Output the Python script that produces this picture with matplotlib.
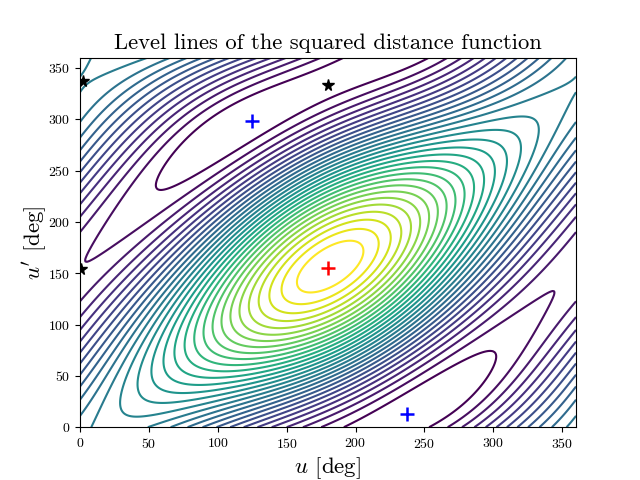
import numpy as np
import matplotlib
matplotlib.use("Agg")
import matplotlib.pyplot as plt

plt.rcParams['font.family'] = ['cmr10', 'DejaVu Sans']
plt.rcParams['mathtext.fontset'] = 'cm'
plt.rcParams['axes.formatter.use_mathtext'] = True

# level numbers are counted outwards from the lowest drawn line
level_numbers = list(range(1, 31))

# where level lines cross the bottom edge (u' = 0)
bottom_u = [9, 51, 66, 77, 88, 99, 110, 121, 132, 143, 154, 165, 176, 189,
            250, 263, 274, 284, 294, 303, 312, 321, 330, 339, 348, 356]
bottom_level = [13, 13, 12, 11, 10, 9, 8, 7, 6, 5, 4, 3, 2, 1,
                1, 2, 3, 4, 5, 6, 7, 8, 9, 10, 11, 12]

# where level lines cross the left edge (u = 0)
left_up = [10, 25, 42, 52, 62, 73, 83, 94, 106, 122, 189, 203, 215, 226, 238,
           251, 262, 274, 287, 302, 328, 344]
left_level = [12, 11, 10, 9, 8, 7, 6, 5, 4, 3, 3, 4, 5, 6, 7,
              8, 9, 10, 11, 12, 13, 13]

# crossings on the vertical line u = 180 and the horizontal line u' = 155
column_up = [319, 310, 303, 252, 204, 195.5]
column_level = [1, 2, 3, 15, 27, 28]
row_u = [218, 272, 340]
row_level = [28, 15, 3]

# other points read on the closed lines
line_u = [135, 227, 127, 235, 241.7,
          54, 309.6, 63.6, 300, 70.6, 291.5, 78, 284,
          79.8, 125.6,
          65, 114, 36, 80, 298.7, 250,
          17, 332.6, 298.7, 344.7, 327.7]
line_up = [130.6, 185.7, 124, 193.8, 202,
           47.6, 263.7, 60.5, 250.7, 70, 245.8, 78.3, 238,
           273.4, 280,
           214.6, 260.5, 224.7, 288, 101.5, 68.6,
           345, 322, 299.5, 289.7, 247.6]
line_level = [28, 28, 27, 27, 26,
              16, 16, 17, 17, 18, 18, 19, 19,
              1, 1,
              2, 2, 2, 2, 2, 2,
              13, 13, 13, 13, 13]

# tips of the long lines and the inner ellipses, these places count for more
tip_u = [58, 304.8, 30, 43.6, 332, 323, 43.5, 319, 17, 8.5, 323, 0, 0, 358,
         156, 206.8, 196, 165.7, 144.7, 217.7, 205.6, 157.2, 180, 180, 201, 210]
tip_up = [236, 75, 21, 9.7, 289.7, 303.7, 39, 277, 172.7, 172.7, 88, 150, 160, 155,
          140, 171, 181.8, 130.4, 133.6, 179, 192.8, 119, 174.6, 185.7, 155, 155]
tip_level = [1, 1, 14, 14, 14, 14, 15, 15, 2, 2, 2, 2, 2, 2,
             30, 30, 30, 30, 29, 29, 29, 29, 30, 29, 30, 29]

# markers: maximum, minima and saddle points
max_u, max_up = [180], [155]
min_u, min_up = [125, 237], [298, 13]
star_u, star_up = [180, 2, 1], [333, 337, 154]
flat_u = [180, 125, 237, 180, 0, 0]
flat_up = [155, 298, 13, 333, 337, 155]
flat_level = [30.7, 0.0, 0.0, 0.4, 13.1, 2.0]


def basis(u, up):
    a = np.radians(u)
    b = np.radians(up)
    return np.stack([np.ones_like(a), np.cos(a), np.sin(a), np.cos(b), np.sin(b),
                     np.cos(2 * a), np.sin(2 * a), np.cos(2 * b), np.sin(2 * b),
                     np.cos(a) * np.cos(b), np.cos(a) * np.sin(b),
                     np.sin(a) * np.cos(b), np.sin(a) * np.sin(b)], axis=-1)


def fitSurface():
    # the squared distance is a sum of these harmonics, so the readings fix it
    u = np.array(bottom_u + [0] * len(left_up) + [180] * len(column_up) + row_u + line_u, float)
    up = np.array([0] * len(bottom_u) + left_up + column_up + [155] * len(row_u) + line_up, float)
    val = np.array(bottom_level + left_level + column_level + row_level + line_level, float)
    rows = [basis(u, up)]
    goal = [val]
    rows.append(5 * basis(np.array(tip_u, float), np.array(tip_up, float)))
    goal.append(5 * np.array(tip_level, float))
    fu = np.array(flat_u, float)
    fv = np.array(flat_up, float)
    rows.append(10 * basis(fu, fv))
    goal.append(10 * np.array(flat_level, float))
    h = 0.5
    weight = 20
    rows.append(weight * (basis(fu + h, fv) - basis(fu - h, fv)) / (2 * h))
    rows.append(weight * (basis(fu, fv + h) - basis(fu, fv - h)) / (2 * h))
    goal.append(np.zeros(len(fu)))
    goal.append(np.zeros(len(fu)))
    coef = np.linalg.lstsq(np.vstack(rows), np.concatenate(goal), rcond=None)[0]
    return coef


def main():
    coef = fitSurface()
    grid = np.linspace(0, 360, 361)
    uu, vv = np.meshgrid(grid, grid)
    zz = basis(uu, vv) @ coef

    plt.figure(figsize=(6.4, 4.8), dpi=100)
    plt.contour(uu, vv, zz, levels=level_numbers, cmap='viridis')
    plt.plot(max_u, max_up, '+', color='red', markersize=10, markeredgewidth=1.8)
    plt.plot(min_u, min_up, '+', color='blue', markersize=10, markeredgewidth=1.8)
    plt.plot(star_u, star_up, '*', color='black', markersize=8.5)
    plt.xlim(0, 360)
    plt.ylim(0, 360)
    plt.xticks(range(0, 351, 50))
    plt.yticks(range(0, 351, 50))
    plt.title("Level lines of the squared distance function", fontsize=16.3)
    plt.xlabel(r"$u$ [deg]", fontsize=16.5, labelpad=3)
    plt.ylabel(r"$u'$ [deg]", fontsize=16.5, labelpad=-1)
    plt.savefig('out.png', dpi=100)


if __name__ == "__main__":
    main()
